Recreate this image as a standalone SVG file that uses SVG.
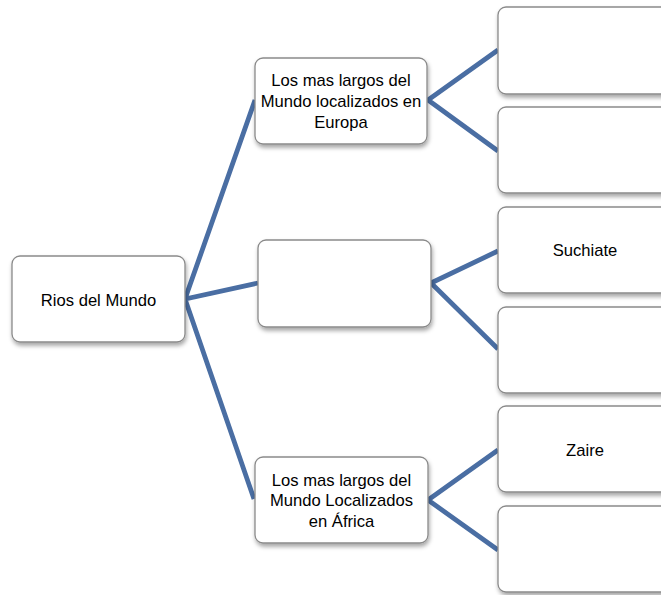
<svg xmlns="http://www.w3.org/2000/svg" width="661" height="595" viewBox="0 0 661 595">
<defs>
<filter id="sh" x="-10%" y="-10%" width="130%" height="140%">
<feDropShadow dx="1" dy="3" stdDeviation="2" flood-color="#000" flood-opacity="0.35"/>
</filter>
<style>
.box{fill:#fff;stroke:#8a8a8a;stroke-width:1.3;filter:url(#sh)}
.t{font-family:"Liberation Sans",Arial,sans-serif;font-size:16.6px;fill:#000;text-anchor:middle}
.c{stroke:#4a6ea3;stroke-width:4.8;fill:none;stroke-linecap:butt;stroke-linejoin:miter}
</style>
</defs>
<rect width="661" height="595" fill="#fff"/>
<g id="connectors">
<path class="c" d="M255,100 L185,299 L258,283 M185,299 L254,499"/>
<path class="c" d="M498,50 L428,100 L498,151"/>
<path class="c" d="M498,251 L431,283 L498,349"/>
<path class="c" d="M498,450 L428,500 L498,550"/>
</g>
<g id="root"><rect class="box" x="12" y="256" width="173" height="86" rx="8"/><text class="t" x="98.5" y="306">Rios del Mundo</text></g>
<g id="europa"><rect class="box" x="255" y="58" width="172" height="86" rx="8"/><text class="t" x="341" y="86">Los mas largos del</text><text class="t" x="341" y="107">Mundo localizados en</text><text class="t" x="341" y="128">Europa</text></g>
<g id="medio"><rect class="box" x="258" y="240" width="173" height="87" rx="8"/></g>
<g id="africa"><rect class="box" x="255" y="457" width="173" height="86" rx="8"/><text class="t" x="341.5" y="486">Los mas largos del</text><text class="t" x="341.5" y="506">Mundo Localizados</text><text class="t" x="341.5" y="527">en África</text></g>
<g id="r1"><rect class="box" x="498" y="7" width="190" height="87" rx="8"/></g>
<g id="r2"><rect class="box" x="498" y="107" width="190" height="86" rx="8"/></g>
<g id="r3"><rect class="box" x="498" y="207" width="190" height="86" rx="8"/><text class="t" x="585" y="256">Suchiate</text></g>
<g id="r4"><rect class="box" x="498" y="307" width="190" height="86" rx="8"/></g>
<g id="r5"><rect class="box" x="498" y="406" width="190" height="86" rx="8"/><text class="t" x="585" y="456">Zaire</text></g>
<g id="r6"><rect class="box" x="498" y="506" width="190" height="86" rx="8"/></g>
</svg>
